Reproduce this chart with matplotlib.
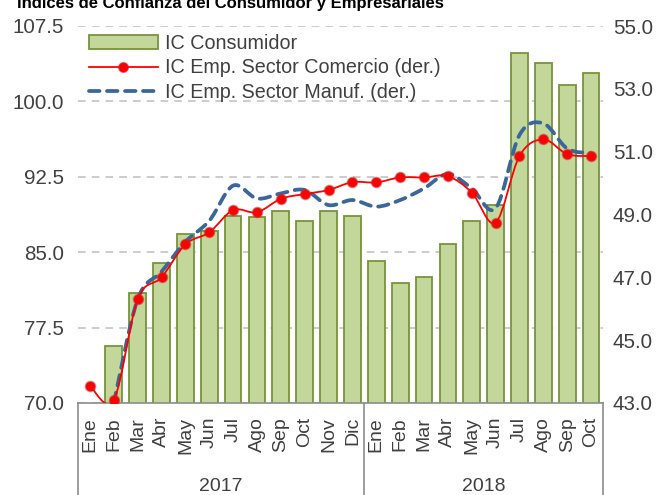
import numpy as np
import matplotlib
matplotlib.use("Agg")
import matplotlib.pyplot as plt
from matplotlib.path import Path
from matplotlib.patches import PathPatch, Patch
from matplotlib.lines import Line2D

plt.rcParams['font.family'] = ['Liberation Sans', 'DejaVu Sans']

months = ['Ene', 'Feb', 'Mar', 'Abr', 'May', 'Jun', 'Jul', 'Ago', 'Sep', 'Oct', 'Nov', 'Dic',
          'Ene', 'Feb', 'Mar', 'Abr', 'May', 'Jun', 'Jul', 'Ago', 'Sep', 'Oct']
years = ['2017', '2018']
year_counts = [12, 10]

consumidor = [69.8, 75.7, 80.9, 83.9, 86.8, 87.1, 88.6, 88.5, 89.1, 88.1, 89.1, 88.6,
              84.1, 81.9, 82.5, 85.8, 88.1, 89.7, 104.8, 103.8, 101.6, 102.8]
comercio = [43.55, 43.1, 46.3, 47.0, 48.05, 48.43, 49.14, 49.07, 49.5, 49.65, 49.78, 50.03,
            50.02, 50.18, 50.18, 50.22, 49.7, 48.74, 50.86, 51.39, 50.92, 50.86]
manufactura = [np.nan, 43.0, 46.3, 47.18, 48.13, 48.8, 49.92, 49.51, 49.67, 49.78, 49.3, 49.46,
               49.25, 49.46, 49.83, 50.29, 49.83, 49.2, 51.53, 51.9, 51.1, 50.95]

GRAY_TXT = '#404040'


def smooth_path(x, y):
    # Excel-style smoothed line: cubic bezier through the points
    pts = [(xi, yi) for xi, yi in zip(x, y) if not np.isnan(yi)]
    verts = [pts[0]]
    codes = [Path.MOVETO]
    for i in range(len(pts) - 1):
        p0 = pts[i - 1] if i > 0 else pts[i]
        p1, p2 = pts[i], pts[i + 1]
        p3 = pts[i + 2] if i + 2 < len(pts) else pts[i + 1]
        c1 = (p1[0] + (p2[0] - p0[0]) / 6, p1[1] + (p2[1] - p0[1]) / 6)
        c2 = (p2[0] - (p3[0] - p1[0]) / 6, p2[1] - (p3[1] - p1[1]) / 6)
        verts += [c1, c2, p2]
        codes += [Path.CURVE4] * 3
    return Path(verts, codes)


fig = plt.figure(figsize=(6.65, 4.95), dpi=100)
ax = fig.add_axes([78 / 665, 92 / 495, 525 / 665, 377 / 495])
ax2 = ax.twinx()

x = np.arange(len(months))

ax.bar(x, consumidor, width=0.7, color='#C4D79B', edgecolor='#77933C', linewidth=1.3, zorder=2)
ax.set_ylim(70, 107.5)
ax.set_yticks(np.arange(70, 107.6, 7.5))
ax.set_yticklabels([f'{v:.1f}' for v in np.arange(70, 107.6, 7.5)])
ax.yaxis.grid(True, color='#BFBFBF', linestyle=(0, (5, 4)), linewidth=1.1, zorder=0)
ax.set_axisbelow(True)
ax.set_xlim(-0.5, len(months) - 0.5)
ax.set_xticks(x)
ax.set_xticklabels(months, rotation=90, va='top', ha='center')
ax.tick_params(axis='x', length=0, pad=10, labelsize=14, labelcolor=GRAY_TXT)
ax.tick_params(axis='y', length=0, pad=10, labelsize=14.8, labelcolor=GRAY_TXT)
for s in ['top', 'left', 'right']:
    ax.spines[s].set_visible(False)
ax.spines['bottom'].set_color('#8C8C8C')
ax.spines['bottom'].set_linewidth(1.2)

ax2.set_ylim(43, 55)
ax2.set_yticks(np.arange(43, 55.1, 2))
ax2.set_yticklabels([f'{v:.1f}' for v in np.arange(43, 55.1, 2)])
ax2.tick_params(axis='y', length=0, pad=7, labelsize=14.8, labelcolor=GRAY_TXT)
for s in ax2.spines.values():
    s.set_visible(False)

manuf_patch = PathPatch(smooth_path(x, manufactura), fill=False, edgecolor='#3A6699',
                        linewidth=2.7, linestyle=(0, (2.8, 2.0)), zorder=3)
manuf_patch.set_capstyle('round')
ax2.add_patch(manuf_patch)
ax2.add_patch(PathPatch(smooth_path(x, comercio), fill=False, edgecolor='#FF0000',
                        linewidth=1.3, zorder=4))
ax2.plot(x, comercio, linestyle='none', marker='o', markersize=7, markerfacecolor='#FF0000',
         markeredgecolor=(0.8, 0.15, 0.15, 0.55), markeredgewidth=1.3, zorder=5)

# category group separators and year labels below the axis
xt = ax.get_xaxis_transform()
start = 0
for yr, n in zip(years, year_counts):
    ax.text(start + (n - 1) / 2, -0.222, yr, transform=xt, ha='center', va='center',
            fontsize=14, color=GRAY_TXT)
    start += n
for b in [-0.5] + list(np.cumsum(year_counts) - 0.5):
    ax.add_line(Line2D([b, b], [0, -0.25], transform=xt, color='#8C8C8C', linewidth=1.2,
                       clip_on=False))

handles = [Patch(facecolor='#C4D79B', edgecolor='#77933C', linewidth=1.3),
           Line2D([], [], color='#FF0000', linewidth=1.3, marker='o', markersize=7,
                  markerfacecolor='#FF0000', markeredgecolor=(0.8, 0.15, 0.15, 0.55)),
           Line2D([], [], color='#3A6699', linewidth=2.7, linestyle=(0, (2.8, 2.0)),
                  dash_capstyle='round')]
labels = ['IC Consumidor', 'IC Emp. Sector Comercio (der.)', 'IC Emp. Sector Manuf. (der.)']
leg = ax2.legend(handles, labels, loc='upper left', bbox_to_anchor=(0.02, 0.98), frameon=False,
                 fontsize=14.2, handlelength=3.5, handletextpad=0.4, labelspacing=0.3,
                 borderpad=0, borderaxespad=0)
for t in leg.get_texts():
    t.set_color(GRAY_TXT)

fig.text(17 / 665, 1 - 8 / 495, 'Índices de Confianza del Consumidor y Empresariales',
         fontsize=12, fontweight='bold', color='black', ha='left', va='baseline')

fig.savefig('out.png', dpi=100)
